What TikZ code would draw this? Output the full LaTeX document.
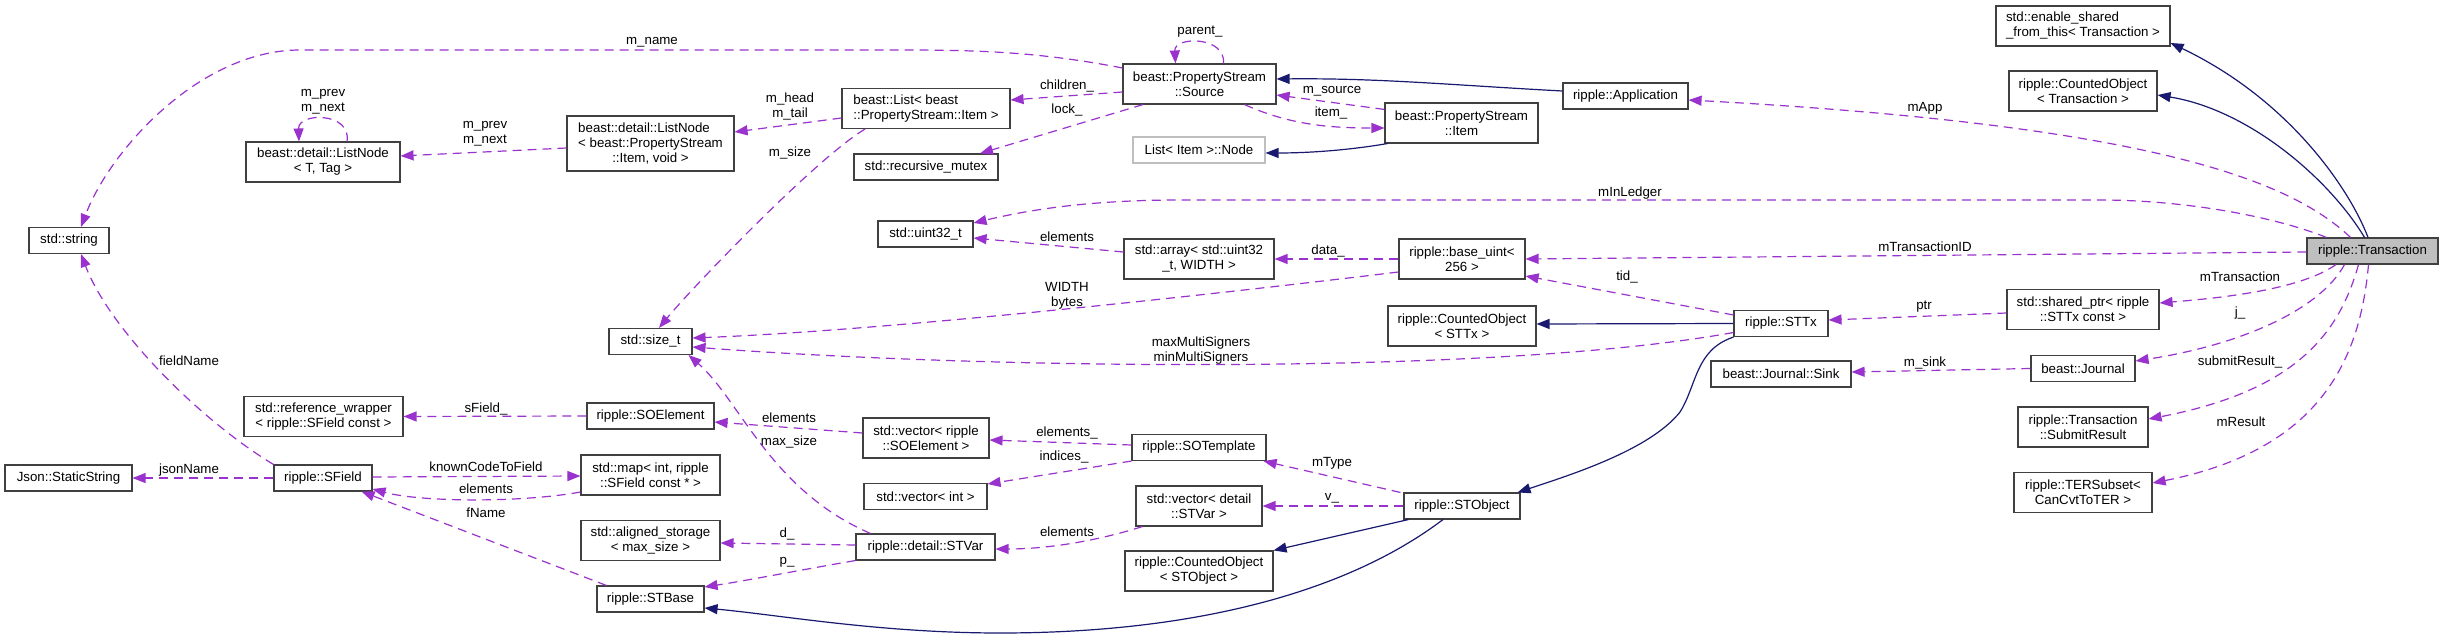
\documentclass[tikz,border=0pt]{standalone}
\usepackage{fontspec}
\setmainfont{Liberation Sans}
\usetikzlibrary{arrows.meta}
\definecolor{usecol}{HTML}{9A32CD}
\definecolor{inhcol}{HTML}{191970}
\definecolor{boxline}{HTML}{404040}
\definecolor{focus}{HTML}{BFBFBF}

\begin{document}
\begin{tikzpicture}[x=1pt, y=-1pt,
    every node/.style={font=\fontsize{13.3}{15}\selectfont},
    cls/.style={rectangle, draw=boxline, line width=1.1pt, fill=white,
        inner sep=0pt, align=center},
    one/.style={cls, minimum height=26pt},
    two/.style={cls, minimum height=40pt},
    three/.style={cls, minimum height=55pt},
    ext/.style={draw=focus},
    lbl/.style={inner sep=0pt, align=center, text=black},
    memb/.style={usecol, line width=1.2pt, dash pattern=on 9pt off 6pt,
        -{Triangle[length=13pt,width=10pt]}},
    inh/.style={inhcol, line width=1.2pt, -{Triangle[length=13pt,width=10pt]}},
]
\path[use as bounding box, fill=white] (0,0) rectangle (2443,639);

% Left column
\node[one, minimum width=80pt] (stdstring) at (69,240.5) {std::string};
\node[one, minimum width=127pt] (staticstring) at (68.5,478) {Json::StaticString};
\node[two, minimum width=154pt] (listnodet) at (323,162) {beast::detail::ListNode\\< T, Tag >};
\node[two, minimum width=159pt] (refwrapper) at (323.5,416.5) {std::reference\_wrapper\\< ripple::SField const >};
\node[one, minimum width=98pt] (sfield) at (323,478) {ripple::SField};

% Second column
\node[three, minimum width=167pt] (listnodeitem) at (650.5,143.5)
    {\rlap{beast::detail::ListNode}\phantom{< beast::PropertyStream}\\< beast::PropertyStream\\::Item, void >};
\node[one, minimum width=83pt] (sizet) at (650.5,341.5) {std::size\_t};
\node[one, minimum width=127pt] (soelement) at (650.5,416) {ripple::SOElement};
\node[two, minimum width=139pt] (fieldmap) at (650.5,475) {std::map< int, ripple\\::SField const * >};
\node[two, minimum width=139pt] (aligned) at (650.5,540.5) {std::aligned\_storage\\< max\_size >};
\node[one, minimum width=107pt] (stbase) at (650.5,599) {ripple::STBase};

% Third column
\node[two, minimum width=168pt, align=left] (beastlist) at (926,108.5) {beast::List< beast\\::PropertyStream::Item >};
\node[one, minimum width=144pt] (mutex) at (926,167) {std::recursive\_mutex};
\node[one, minimum width=95pt] (uint32) at (925.5,234) {std::uint32\_t};
\node[two, minimum width=126pt] (vecsoelement) at (926,438) {std::vector< ripple\\::SOElement >};
\node[one, minimum width=123pt] (vecint) at (925.5,496.5) {std::vector< int >};
\node[one, minimum width=139pt] (stvar) at (925.5,547) {ripple::detail::STVar};

% Fourth column
\node[two, minimum width=153pt] (source) at (1199.5,84) {beast::PropertyStream\\::Source};
\node[one, ext, minimum width=132pt] (itemnode) at (1199,150) {List< Item >::Node};
\node[two, minimum width=150pt] (array) at (1199,259) {std::array< std::uint32\\\_t, WIDTH >};
\node[one, minimum width=134pt] (sotemplate) at (1199,447.5) {ripple::SOTemplate};
\node[two, minimum width=126pt] (vecstvar) at (1199,506) {std::vector< detail\\::STVar >};
\node[two, minimum width=148pt] (countedstobject) at (1199,571) {ripple::CountedObject\\< STObject >};

% Fifth column
\node[two, minimum width=153pt] (psitem) at (1461.5,123) {beast::PropertyStream\\::Item};
\node[two, minimum width=126pt] (baseuint) at (1462,259) {ripple::base\_uint<\\256 >};
\node[two, minimum width=148pt] (countedsttx) at (1462,326) {ripple::CountedObject\\< STTx >};
\node[one, minimum width=116pt] (stobject) at (1462,506) {ripple::STObject};

% Sixth column
\node[one, minimum width=125pt] (application) at (1625.5,96) {ripple::Application};
\node[one, minimum width=94pt] (sttx) at (1781,323.5) {ripple::STTx};
\node[one, minimum width=140pt] (sink) at (1781,374) {beast::Journal::Sink};

% Seventh column
\node[two, minimum width=174pt, align=left] (enableshared) at (2083,26) {std::enable\_shared\\\_from\_this< Transaction >};
\node[two, minimum width=148pt] (countedtx) at (2083,91) {ripple::CountedObject\\< Transaction >};
\node[two, minimum width=152pt] (sharedptr) at (2083,309.5) {std::shared\_ptr< ripple\\::STTx const >};
\node[one, minimum width=104pt] (journal) at (2083,368.5) {beast::Journal};
\node[two, minimum width=130pt] (submitresult) at (2083,427) {ripple::Transaction\\::SubmitResult};
\node[two, minimum width=138pt] (tersubset) at (2083,492.5) {ripple::TERSubset<\\CanCvtToTER >};

% The class itself
\node[one, fill=focus, minimum width=131pt] (transaction) at (2372.5,251) {ripple::Transaction};

% Members (upper part)
\draw[memb] ([yshift=16pt]source.west) .. controls (1040,52) and (980,50) .. (900,50) -- (300,50)
    .. controls (200,50) and (110,150) .. ([xshift=12pt]stdstring.north)
    node[lbl] at (652,42) {m\_name};
\draw[memb] ([xshift=24pt]listnodet.north) .. controls (352,112) and (298,112) .. ([xshift=-24pt]listnodet.north)
    node[lbl] at (323,102) {m\_prev\\m\_next};
\draw[memb] ([yshift=-4.5pt]listnodeitem.west) -- ([yshift=6pt]listnodet.east)
    node[lbl] at (485,134) {m\_prev\\m\_next};
\draw[memb] ([yshift=-9.5pt]beastlist.west) -- ([yshift=11.5pt]listnodeitem.east)
    node[lbl] at (790,107) {m\_head\\m\_tail};
\draw[memb] ([xshift=-61pt]beastlist.south) .. controls (815,159) and (690,290) .. ([xshift=8.5pt]sizet.north)
    node[lbl] at (790,153) {m\_size};
\draw[memb] ([yshift=-8pt]source.west) -- ([yshift=8.5pt]beastlist.east)
    node[lbl] at (1067,86) {children\_};
\draw[memb] ([xshift=-56.5pt]source.south) -- ([xshift=54pt]mutex.north)
    node[lbl] at (1067,110) {lock\_};
\draw[memb] ([xshift=24pt]source.north) .. controls (1226,36) and (1174,36) .. ([xshift=-24pt]source.north)
    node[lbl] at (1200,32) {parent\_};
\draw[memb] ([yshift=-7pt]psitem.north west) -- ([yshift=-11pt]source.east)
    node[lbl] at (1332,91) {m\_source};
\draw[memb] ([xshift=45pt]source.south) .. controls (1290,125) and (1330,128) .. ([yshift=-5pt]psitem.west)
    node[lbl] at (1331,113) {item\_};

% Members of Transaction
\draw[memb] ([xshift=-22pt]transaction.north) .. controls (2290,180) and (2150,125) .. ([yshift=-4pt]application.east)
    node[lbl] at (1925,108) {mApp};
\draw[memb] ([xshift=-46pt]transaction.north) .. controls (2270,215) and (2180,200) .. (2100,200) -- (1180,200)
    .. controls (1080,200) and (1020,212) .. ([yshift=11pt]uint32.east)
    node[lbl] at (1630,193) {mInLedger};
\draw[memb] ([yshift=-1pt]transaction.west) -- (baseuint.east)
    node[lbl] at (1925,247) {mTransactionID};
\draw[memb] ([xshift=-36.5pt]transaction.south) .. controls (2300,290) and (2220,298) .. ([yshift=6.5pt]sharedptr.east)
    node[lbl] at (2240,277) {mTransaction};
\draw[memb] ([xshift=-28pt]transaction.south) .. controls (2320,310) and (2240,345) .. ([yshift=7.5pt]journal.east)
    node[lbl] at (2240,313) {j\_};
\draw[memb] ([xshift=-14pt]transaction.south) .. controls (2340,330) and (2300,390) .. ([yshift=8pt]submitresult.east)
    node[lbl] at (2240,362) {submitResult\_};
\draw[memb] ([xshift=-4pt]transaction.south) .. controls (2360,360) and (2320,450) .. ([yshift=9.5pt]tersubset.east)
    node[lbl] at (2241,422) {mResult};

% Members (middle part)
\draw[memb] ([yshift=7pt]array.west) -- ([yshift=-4pt]uint32.east)
    node[lbl] at (1067,237) {elements};
\draw[memb] (baseuint.west) -- (array.east)
    node[lbl] at (1328,251) {data\_};
\draw[memb] ([yshift=-13pt]baseuint.west) .. controls (1250,290) and (900,330) .. ([yshift=3.5pt]sizet.east)
    node[lbl] at (1067,296) {WIDTH\\bytes};
\draw[memb] ([yshift=8.5pt]sttx.west) -- ([yshift=-17pt]baseuint.east)
    node[lbl] at (1627,277) {tid\_};
\draw[memb] ([yshift=-3.5pt]sharedptr.west) -- ([yshift=3.5pt]sttx.east)
    node[lbl] at (1924,307) {ptr};
\draw[memb] ([yshift=-9pt]sttx.west) .. controls (1500,375) and (1000,370) .. ([yshift=-5.5pt]sizet.east)
    node[lbl] at (1201,351) {maxMultiSigners\\minMultiSigners};
\draw[memb] (journal.west) -- ([yshift=2pt]sink.east)
    node[lbl] at (1925,363) {m\_sink};

% Members (lower part)
\draw[memb] (sfield.north west) .. controls (200,420) and (110,330) .. ([xshift=12pt]stdstring.south)
    node[lbl] at (189,361) {fieldName};
\draw[memb] (soelement.west) -- (refwrapper.east)
    node[lbl] at (486,409) {sField\_};
\draw[memb] (sfield.west) -- (staticstring.east)
    node[lbl] at (189,470) {jsonName};
\draw[memb] ([yshift=1pt]sfield.east) -- ([yshift=-1pt]fieldmap.west)
    node[lbl] at (486,467) {knownCodeToField};
\draw[memb] ([yshift=-17pt]fieldmap.west) .. controls (520,503) and (420,502) .. ([yshift=-11pt]sfield.east)
    node[lbl] at (486,489) {elements};
\draw[memb] ([xshift=10pt]stbase.north west) -- ([xshift=-11pt]sfield.south east)
    node[lbl] at (486,513) {fName};
\draw[memb] ([yshift=5pt]vecsoelement.west) -- ([yshift=-6pt]soelement.east)
    node[lbl] at (789,418) {elements};
\draw[memb] ([xshift=15pt]stvar.north west) .. controls (770,490) and (740,400) .. ([xshift=-4pt]sizet.south east)
    node[lbl] at (789,442) {max\_size};
\draw[memb] ([yshift=2.5pt]sotemplate.west) -- ([yshift=-2pt]vecsoelement.east)
    node[lbl] at (1067,433) {elements\_};
\draw[memb] (sotemplate.south west) -- ([yshift=12.5pt]vecint.east)
    node[lbl] at (1064,457) {indices\_};
\draw[memb] ([xshift=-3pt]stobject.north west) -- ([xshift=-3pt]sotemplate.south east)
    node[lbl] at (1332,463) {mType};
\draw[memb] (stobject.west) -- (vecstvar.east)
    node[lbl] at (1332,498) {v\_};
\draw[memb] ([xshift=7pt]vecstvar.south west) .. controls (1100,540) and (1050,549) .. ([yshift=-2pt]stvar.east)
    node[lbl] at (1067,532) {elements};
\draw[memb] ([yshift=2pt]stvar.west) -- ([yshift=-2.5pt]aligned.east)
    node[lbl] at (787,534) {d\_};
\draw[memb] (stvar.south west) .. controls (800,570) and (750,580) .. ([yshift=12pt]stbase.east)
    node[lbl] at (787,562) {p\_};

% Inheritance
\draw[inh] ([yshift=5pt]application.west) .. controls (1450,85) and (1380,78) .. ([yshift=5pt]source.east);
\draw[inh] ([xshift=3pt]psitem.south west) .. controls (1350,150) and (1310,153) .. ([yshift=-3pt]itemnode.east);
\draw[inh] ([xshift=-4.5pt]transaction.north) .. controls (2350,190) and (2290,100) .. ([yshift=-17pt]enableshared.east);
\draw[inh] ([xshift=-8pt]transaction.north) .. controls (2330,180) and (2250,110) .. ([yshift=-4pt]countedtx.east);
\draw[inh] (sttx.west) -- ([yshift=2pt]countedsttx.east);
\draw[inh] (sttx.south west) .. controls (1695,350) and (1697,385) .. (1680,412)
    .. controls (1650,450) and (1570,475) .. ([xshift=-3pt]stobject.north east);
\draw[inh] ([xshift=5pt]stobject.south west) -- (countedstobject.north east);
\draw[inh] ([xshift=-19pt]stobject.south) .. controls (1350,590) and (1200,633) .. (1000,633)
    .. controls (880,633) and (780,615) .. ([yshift=-9pt]stbase.east);

\end{tikzpicture}
\end{document}
